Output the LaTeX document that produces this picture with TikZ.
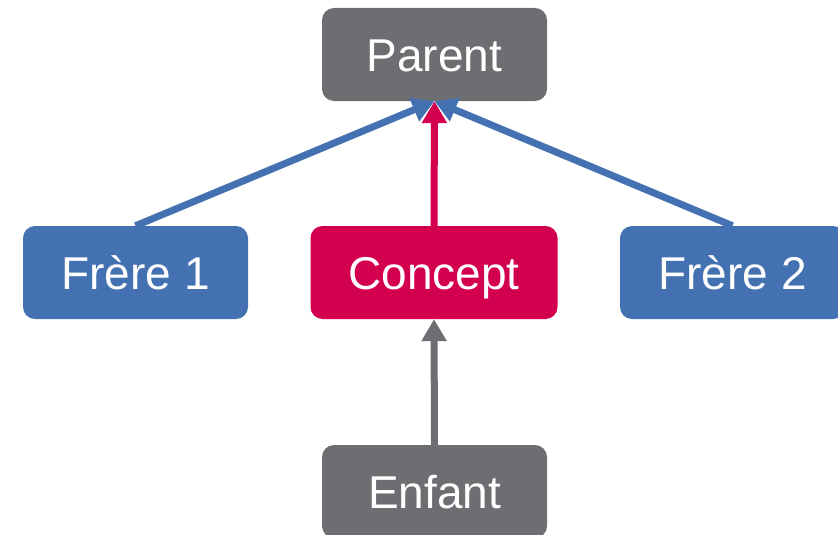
\documentclass[tikz,border=0pt]{standalone}
\usepackage{fontspec}
\setmainfont{Liberation Sans}
\usetikzlibrary{arrows.meta}
\definecolor{cgray}{HTML}{6D6E71}
\definecolor{cblue}{HTML}{4371B1}
\definecolor{cred}{HTML}{D2004F}
\begin{document}
\begin{tikzpicture}[x=1pt,y=-1pt,
  box/.style={rectangle,rounded corners=12pt,minimum height=93pt,minimum width=225pt,
    text=white,font=\fontsize{46}{55}\selectfont,inner sep=0pt,text height=33pt,text depth=0pt},
  conn/.style={line width=7pt,-{Triangle[length=22pt,width=24pt]}}]
\useasboundingbox (0,0) rectangle (838,535);
\clip (0,0) rectangle (838,535);
\node[box,fill=cgray] (parent) at (434.5,54.5) {Parent};
\node[box,fill=cblue] (f1) at (135.5,272.5) {Frère 1};
\node[box,fill=cred,minimum width=247pt] (concept) at (434,272.5) {Concept};
\node[box,fill=cblue] (f2) at (732.5,272.5) {Frère 2};
\node[box,fill=cgray] (enfant) at (434.5,491.5) {Enfant};
\draw[conn,cblue] (f1.north) -- (parent.south);
\draw[conn,cblue] (f2.north) -- (parent.south);
\draw[conn,cred] (concept.north) -- (parent.south);
\draw[conn,cgray] (enfant.north) -- (concept.south);
\end{tikzpicture}
\end{document}
